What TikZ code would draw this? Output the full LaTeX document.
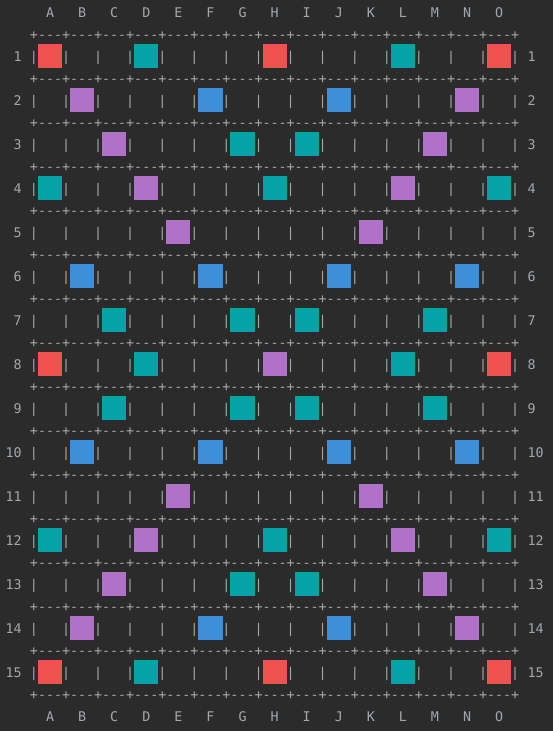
\documentclass[tikz,border=0pt]{standalone}
\usepackage{fontspec}
\setmonofont{DejaVu Sans Mono}
\definecolor{boardbg}{HTML}{2B2B2B}
\definecolor{glyphgray}{HTML}{A4A8AC}
\definecolor{tripleword}{HTML}{F0524F}
\definecolor{doubleletter}{HTML}{04A4A6}
\definecolor{doubleword}{HTML}{B072C9}
\definecolor{tripleletter}{HTML}{3E8FD8}
\begin{document}
\begin{tikzpicture}[x=0.75pt, y=-0.75pt,
    glyph/.style={text=glyphgray, font=\fontsize{10pt}{12pt}\ttfamily, inner sep=0pt, anchor=base}]
    % Background
        \fill[boardbg] (0,0) rectangle (553,731);
    % Premium squares (one quadrant, mirrored)
        \foreach \c/\r/\kind in {1/1/tripleword, 4/1/doubleletter, 8/1/tripleword,
                2/2/doubleword, 6/2/tripleletter,
                3/3/doubleword, 7/3/doubleletter,
                1/4/doubleletter, 4/4/doubleword, 8/4/doubleletter,
                5/5/doubleword,
                2/6/tripleletter, 6/6/tripleletter,
                3/7/doubleletter, 7/7/doubleletter,
                1/8/tripleword, 4/8/doubleletter, 8/8/doubleword}
            \foreach \mc in {\c, 16-\c}
                \foreach \mr in {\r, 16-\r}
                    \fill[\kind] ({1.92+8.02*(2+4*(\mc))-12.1}, {13.3+43.96*(\mr)-13})
                        rectangle ({1.92+8.02*(2+4*(\mc))+12.1}, {13.3+43.96*(\mr)+11});
    % Column letters
        \foreach \ch [count=\j from 0] in {A,B,C,D,E,F,G,H,I,J,K,L,M,N,O} {
            \node[glyph] (top-\ch) at ({1.92+8.02*(6+4*\j)}, {13.3+4.6}) {\ch};
            \node[glyph] (bottom-\ch) at ({1.92+8.02*(6+4*\j)}, {13.3+21.98*32+4.6}) {\ch};
        }
    % Separator lines
        \foreach \s in {0,...,15} {
            \foreach \j in {0,...,15}
                \node[glyph] (plus-\s-\j) at ({1.92+8.02*(4+4*\j)}, {13.3+21.98*(2*\s+1)+4.6}) {+};
            \foreach \j in {0,...,14}
                \foreach \d in {1,2,3}
                    \node[glyph] (dash-\s-\j-\d) at ({1.92+8.02*(4+4*\j+\d)}, {13.3+21.98*(2*\s+1)+4.6}) {-};
        }
    % Rows with labels and bars
        \foreach \r in {1,...,15} {
            \node[glyph, anchor=base east] (left-\r) at ({1.92+8.02*2+4}, {13.3+43.96*\r+4.6}) {\r};
            \node[glyph, anchor=base west] (right-\r) at ({1.92+8.02*66-4}, {13.3+43.96*\r+4.6}) {\r};
            \foreach \j in {0,...,15}
                \node[glyph] (bar-\r-\j) at ({1.92+8.02*(4+4*\j)}, {13.3+43.96*\r+4.6}) {|};
        }
\end{tikzpicture}
\end{document}
